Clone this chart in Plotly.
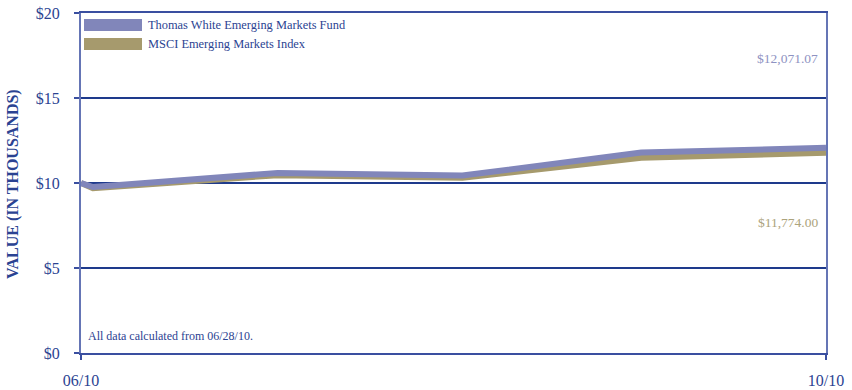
import plotly.graph_objects as go

dates = ["2010-06-28", "2010-06-30", "2010-07-31", "2010-08-31", "2010-09-30", "2010-10-31"]
fund_values = [10.0, 9.76, 10.59, 10.44, 11.79, 12.07107]
index_values = [10.0, 9.70, 10.46, 10.31, 11.49, 11.774]
fund_name = "Thomas White Emerging Markets Fund"
index_name = "MSCI Emerging Markets Index"
y_tick_vals = [0, 5, 10, 15, 20]
y_tick_text = ["$0", "$5", "$10", "$15", "$20"]
x_tick_vals = ["2010-06-28", "2010-10-31"]
x_tick_text = ["06/10", "10/10"]
fund_end_label = "$12,071.07"
index_end_label = "$11,774.00"
note = "All data calculated from 06/28/10."
y_title = "VALUE (IN THOUSANDS)"

FUND_C = "#8186BA"
INDEX_C = "#A69A6D"
TEXT_C = "#2B4392"
FONT = "Liberation Serif, Times New Roman, serif"

fig = go.Figure()
fig.add_trace(go.Scatter(x=dates, y=index_values, mode="lines", name=index_name,
                         line=dict(color=INDEX_C, width=6), showlegend=False, hoverinfo="skip"))
fig.add_trace(go.Scatter(x=dates, y=fund_values, mode="lines", name=fund_name,
                         line=dict(color=FUND_C, width=6), showlegend=False, hoverinfo="skip"))

fig.update_layout(
    width=852, height=390,
    margin=dict(l=81, r=26, t=13, b=37),
    paper_bgcolor="white", plot_bgcolor="white",
    font=dict(family=FONT, color=TEXT_C),
    xaxis=dict(type="date", range=[x_tick_vals[0], x_tick_vals[-1]], automargin=False,
               tickmode="array", tickvals=x_tick_vals, ticktext=x_tick_text,
               showgrid=False, zeroline=False,
               showline=True, mirror=True, linecolor="#3A4FA0", linewidth=2,
               ticks="outside", ticklen=5, tickcolor="#3A4FA0", tickwidth=2,
               ticklabelstandoff=7,
               tickfont=dict(size=16, color=TEXT_C, family=FONT)),
    yaxis=dict(range=[0, 20], tickmode="array", tickvals=y_tick_vals, ticktext=y_tick_text,
               automargin=False,
               showgrid=True, gridcolor="#1E3A8C", gridwidth=1.5, zeroline=False,
               showline=True, mirror=True, linecolor="#6575B5", linewidth=2,
               ticks="outside", ticklen=5, tickcolor="#3A4FA0", tickwidth=1.5,
               ticklabelstandoff=11,
               tickfont=dict(size=16, color=TEXT_C, family=FONT)),
)

# y-axis title
fig.add_annotation(text="<b>" + y_title + "</b>", xref="paper", yref="paper",
                   x=(13 - 81) / 745, y=1 - (184 - 13) / 340, xanchor="center", yanchor="middle",
                   textangle=-90, showarrow=False,
                   font=dict(size=16, color=TEXT_C, family=FONT))

# manual legend swatches and labels
legend_items = [(fund_name, FUND_C, 25), (index_name, INDEX_C, 44)]
for name, color, ypx in legend_items:
    fig.add_shape(type="rect", xref="paper", yref="paper",
                  x0=3 / 745, x1=61 / 745,
                  y0=1 - (ypx - 13 + 6) / 340, y1=1 - (ypx - 13 - 6) / 340,
                  fillcolor=color, line=dict(width=0))
    fig.add_annotation(text=name, xref="paper", yref="paper",
                       x=65 / 745, y=1 - (ypx - 13) / 340, xanchor="left", yanchor="middle",
                       showarrow=False, font=dict(size=12.4, color=TEXT_C, family=FONT))

fig.add_annotation(text=fund_end_label, xref="paper", yref="paper",
                   x=(820 - 81) / 745, y=1 - (59 - 13) / 340, xanchor="right", yanchor="middle",
                   showarrow=False, font=dict(size=13.5, color="#8E92C2", family=FONT))
fig.add_annotation(text=index_end_label, xref="paper", yref="paper",
                   x=(820 - 81) / 745, y=1 - (222 - 13) / 340, xanchor="right", yanchor="middle",
                   showarrow=False, font=dict(size=13.5, color="#ACA37C", family=FONT))
fig.add_annotation(text=note, xref="paper", yref="paper",
                   x=(86 - 81) / 745, y=1 - (336 - 13) / 340, xanchor="left", yanchor="middle",
                   showarrow=False, font=dict(size=12, color=TEXT_C, family=FONT))

fig.write_html("out.html", config={"displayModeBar": False},
               post_script="document.body.style.margin='0';document.body.style.overflow='hidden';")
